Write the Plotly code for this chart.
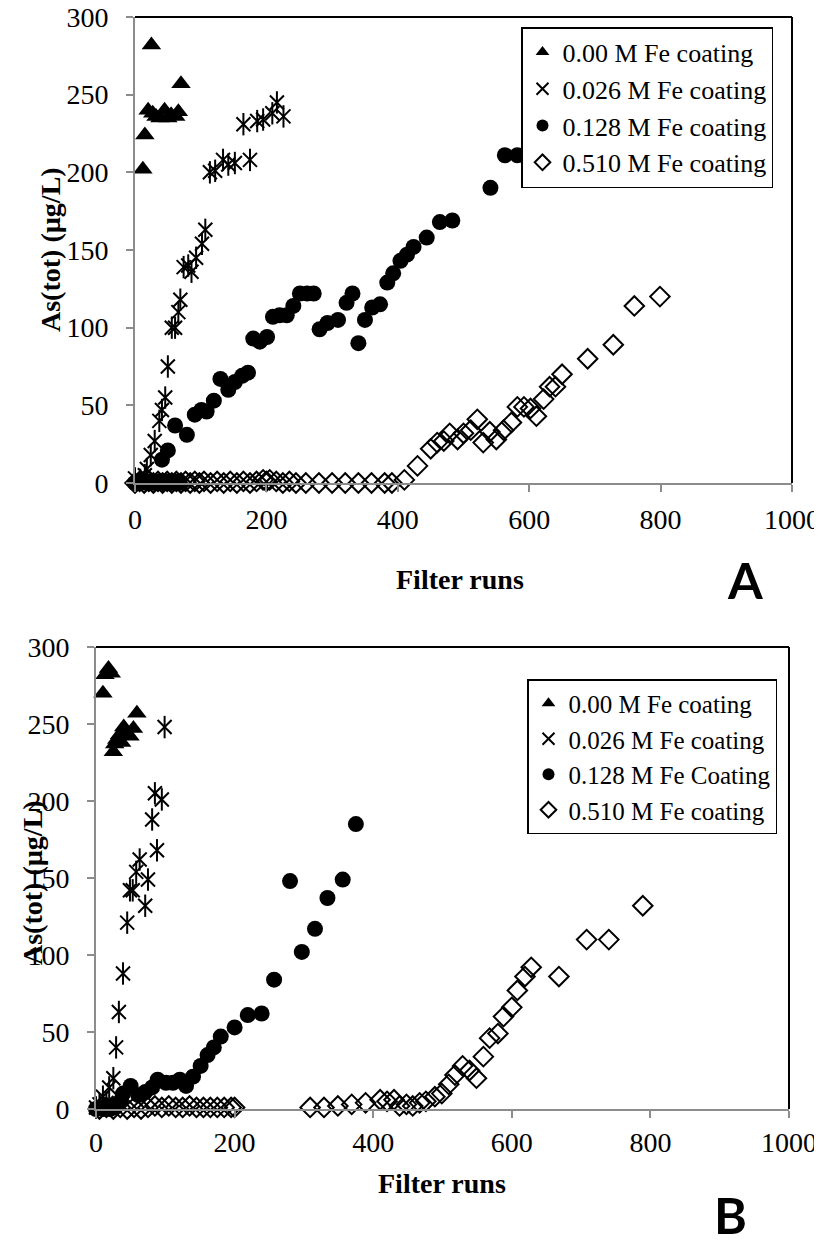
import plotly.graph_objects as go

# ---- Panel A data (filter runs, As(tot) ug/L) ----
a_fe000_x = [12, 15, 20, 25, 27, 32, 38, 45, 50, 55, 62, 66, 70]
a_fe000_y = [202, 224, 240, 282, 238, 236, 235, 240, 235, 237, 236, 239, 257]

a_fe026_x = [0, 8, 15, 18, 24, 30, 37, 41, 46, 50, 56, 61, 66, 69, 74, 81, 86, 93, 102, 107,
             114, 122, 134, 142, 152, 175, 165, 186, 195, 209, 216, 226]
a_fe026_y = [3, 2, 5, 9, 18, 27, 40, 47, 55, 75, 100, 100, 110, 118, 139, 140, 136, 145, 154, 163,
             200, 201, 208, 205, 206, 208, 231, 233, 234, 238, 245, 236]

a_fe128_x = [0, 6, 12, 18, 24, 30, 36, 42, 48, 55, 62, 68,
             41, 50, 61, 79, 91, 101, 109, 120, 130, 142, 152, 163, 172, 180, 190, 201, 210, 220,
             231, 241, 251, 262, 272, 281, 293, 309, 322, 331, 340, 350, 361, 373, 384, 393, 404,
             414, 424, 444, 464, 483, 541, 563, 582]
a_fe128_y = [0, 0, 1, 0, 1, 0, 1, 0, 1, 0, 1, 0,
             15, 21, 37, 31, 44, 47, 46, 53, 67, 60, 65, 69, 71, 93, 91, 94, 107, 108,
             108, 114, 122, 122, 122, 99, 103, 105, 116, 122, 90, 105, 113, 115, 129, 135, 143,
             147, 152, 158, 168, 169, 190, 211, 211]

a_fe510_x = [0, 7, 14, 21, 28, 35, 42, 49, 56, 63, 70, 77, 84, 91, 98, 105, 115, 125, 135, 145,
             155, 165, 175, 185, 195, 200, 205, 215, 225, 235, 245, 260, 280, 300, 320, 340, 360,
             380, 391, 410, 430, 450, 460, 470, 479, 491, 500, 511, 521, 530, 540, 550, 561, 573,
             582, 592, 602, 611, 622, 631, 640, 650, 689, 728, 760, 799]
a_fe510_y = [0, 1, 0, 1, 0, 1, 0, 1, 0, 1, 0, 1, 0, 1, 0, 1, 0, 1, 0, 1,
             0, 1, 0, 1, 2, 1, 2, 1, 0, 1, 0, 0, 0, 0, 0, 0, 0,
             0, 0, 2, 11, 22, 26, 27, 32, 28, 32, 34, 41, 26, 33, 28, 34, 39,
             49, 49, 48, 43, 54, 62, 62, 70, 80, 89, 114, 120]

# ---- Panel B data ----
b_fe000_x = [10, 13, 18, 22, 25, 27, 30, 34, 37, 40, 44, 49, 54, 59]
b_fe000_y = [270, 282, 286, 283, 232, 237, 240, 243, 238, 248, 244, 242, 247, 257]

b_fe026_x = [0, 5, 10, 15, 19, 25, 29, 33, 39, 45, 49, 53, 58, 63, 71, 75, 81, 85, 88, 95, 99]
b_fe026_y = [1, 3, 8, 4, 14, 20, 40, 63, 88, 121, 142, 142, 154, 162, 132, 149, 188, 205, 168, 201, 248]

b_fe128_x = [0, 5, 10, 15, 20, 25, 30, 35, 39, 50, 61, 71, 81, 89, 101, 111, 121, 130, 140, 151,
             161, 170, 180, 200, 219, 239, 257, 280, 297, 316, 334, 356, 375]
b_fe128_y = [0, 1, 0, 2, 0, 1, 3, 5, 10, 15, 9, 11, 14, 19, 17, 17, 19, 15, 21, 28,
             35, 40, 47, 53, 61, 62, 84, 148, 102, 117, 137, 149, 185]

b_fe510_x = [5, 15, 25, 35, 45, 55, 65, 75, 85, 95, 105, 115, 125, 135, 145, 155, 165, 175, 185,
             195, 200, 309, 329, 349, 369, 389, 410, 420, 430, 438, 448, 457, 467, 476, 489, 499,
             509, 518, 529, 539, 549, 559, 568, 580, 588, 600, 608, 619, 628, 668, 708, 740, 789]
b_fe510_y = [0, 1, 0, 1, 0, 1, 0, 1, 2, 1, 2, 1, 1, 2, 1, 1, 1, 1, 1,
             1, 1, 1, 1, 2, 3, 4, 6, 5, 6, 2, 3, 2, 4, 5, 8, 10,
             16, 22, 28, 25, 20, 34, 46, 49, 60, 66, 77, 86, 92, 86, 110, 110, 132]

names_a = ["0.00 M Fe coating", "0.026 M Fe coating", "0.128 M Fe coating", "0.510 M Fe coating"]
names_b = ["0.00 M Fe coating", "0.026 M Fe coating", "0.128 M Fe Coating", "0.510 M Fe coating"]

# the page body has an 8px margin, so the figure is laid out 8px smaller
W, H = 814, 1239
SERIF = "Liberation Serif, Times New Roman, serif"


def add_panel(fig, xs, ys, names, xa, ya, legend, grp):
    tri = dict(symbol="triangle-up", size=17, color="black")
    ast1 = dict(symbol="x-thin-open", size=14, color="black", line=dict(width=2, color="black"))
    ast2 = dict(symbol="line-ns-open", size=16, color="black", line=dict(width=2, color="black"))
    dot = dict(symbol="circle", size=16, color="black")
    dia = dict(symbol="diamond-open", size=15, color="black", line=dict(width=2, color="black"))
    common = dict(mode="markers", xaxis=xa, yaxis=ya, legend=legend, cliponaxis=False)
    # 0.510 drawn first so the filled markers sit on top
    fig.add_trace(go.Scatter(x=xs[3], y=ys[3], name=names[3], marker=dia,
                             legendgroup=grp + "d", legendrank=4, **common))
    fig.add_trace(go.Scatter(x=xs[2], y=ys[2], name=names[2], marker=dot,
                             legendgroup=grp + "c", legendrank=3, **common))
    fig.add_trace(go.Scatter(x=xs[1], y=ys[1], name=names[1], marker=ast1,
                             legendgroup=grp + "s", legendrank=2, **common))
    fig.add_trace(go.Scatter(x=xs[1], y=ys[1], name=names[1], marker=ast2, showlegend=False,
                             legendgroup=grp + "s", **common))
    fig.add_trace(go.Scatter(x=xs[0], y=ys[0], name=names[0], marker=tri,
                             legendgroup=grp + "t", legendrank=1, **common))


fig = go.Figure()
add_panel(fig, [a_fe000_x, a_fe026_x, a_fe128_x, a_fe510_x],
          [a_fe000_y, a_fe026_y, a_fe128_y, a_fe510_y], names_a, "x", "y", "legend", "a")
add_panel(fig, [b_fe000_x, b_fe026_x, b_fe128_x, b_fe510_x],
          [b_fe000_y, b_fe026_y, b_fe128_y, b_fe510_y], names_b, "x2", "y2", "legend2", "b")

axis_common = dict(showgrid=False, zeroline=False, showline=True, linecolor="#8c8c8c", linewidth=2,
                   ticks="outside", ticklen=7, tickwidth=2, tickcolor="#8c8c8c",
                   ticklabeloverflow="allow",
                   tickfont=dict(family=SERIF, size=28, color="black"))

xa_dom = [127 / W, 784 / W]
ya_dom = [1 - 475 / H, 1 - 9 / H]
xb_dom = [88 / W, 781 / W]
yb_dom = [1 - 1101 / H, 1 - 639 / H]

fig.update_layout(
    width=W, height=H, margin=dict(l=0, r=0, t=0, b=0, autoexpand=False),
    paper_bgcolor="white", plot_bgcolor="white",
    xaxis=dict(domain=xa_dom, range=[0, 1000], dtick=200, anchor="y", ticklabelstandoff=3, **axis_common),
    yaxis=dict(domain=ya_dom, range=[0, 300], dtick=50, anchor="x", ticklabelstandoff=12, **axis_common),
    xaxis2=dict(domain=xb_dom, range=[0, 1000], dtick=200, anchor="y2", ticklabelstandoff=0, **axis_common),
    yaxis2=dict(domain=yb_dom, range=[0, 300], dtick=50, anchor="x2", ticklabelstandoff=12, **axis_common),
    legend=dict(x=513 / W, y=1 - 19 / H, xanchor="left", yanchor="top", bgcolor="white",
                bordercolor="black", borderwidth=1.5, font=dict(family=SERIF, size=26, color="black"),
                traceorder="grouped", tracegroupgap=0, itemsizing="constant"),
    legend2=dict(x=519 / W, y=1 - 671 / H, xanchor="left", yanchor="top", bgcolor="white",
                 bordercolor="black", borderwidth=1.5, font=dict(family=SERIF, size=25, color="black"),
                 traceorder="grouped", tracegroupgap=0, itemsizing="constant"),
    showlegend=True,
)

# black top/right frame lines
for xr, yr in [("x domain", "y domain"), ("x2 domain", "y2 domain")]:
    fig.add_shape(type="line", xref=xr, yref=yr, x0=0, x1=1, y0=1, y1=1, line=dict(color="black", width=2))
    fig.add_shape(type="line", xref=xr, yref=yr, x0=1, x1=1, y0=0, y1=1, line=dict(color="black", width=2))

title_font = dict(family=SERIF, size=28, color="black")
big_font = dict(family="Lato, Open Sans, sans-serif", size=50, color="black")
ann = [
    dict(text="<b>As(tot) (µg/L)</b>", x=42 / W, y=1 - 242 / H, textangle=-90, font=title_font),
    dict(text="<b>Filter runs</b>", x=452 / W, y=1 - 572 / H, font=title_font),
    dict(text="<b>As(tot) (µg/L)</b>", x=24 / W, y=1 - 875 / H, textangle=-90, font=title_font),
    dict(text="<b>Filter runs</b>", x=434 / W, y=1 - 1175 / H, font=title_font),
    dict(text="<b>A</b>", x=737 / W, y=1 - 572 / H, font=big_font),
]
for a in ann:
    fig.add_annotation(xref="paper", yref="paper", showarrow=False, xanchor="center", yanchor="middle", **a)
fig.add_annotation(xref="paper", yref="paper", showarrow=False, xanchor="center", yanchor="bottom",
                   text="<b>B</b>", x=722 / W, y=0.0, font=big_font)

fig.write_html("out.html")
